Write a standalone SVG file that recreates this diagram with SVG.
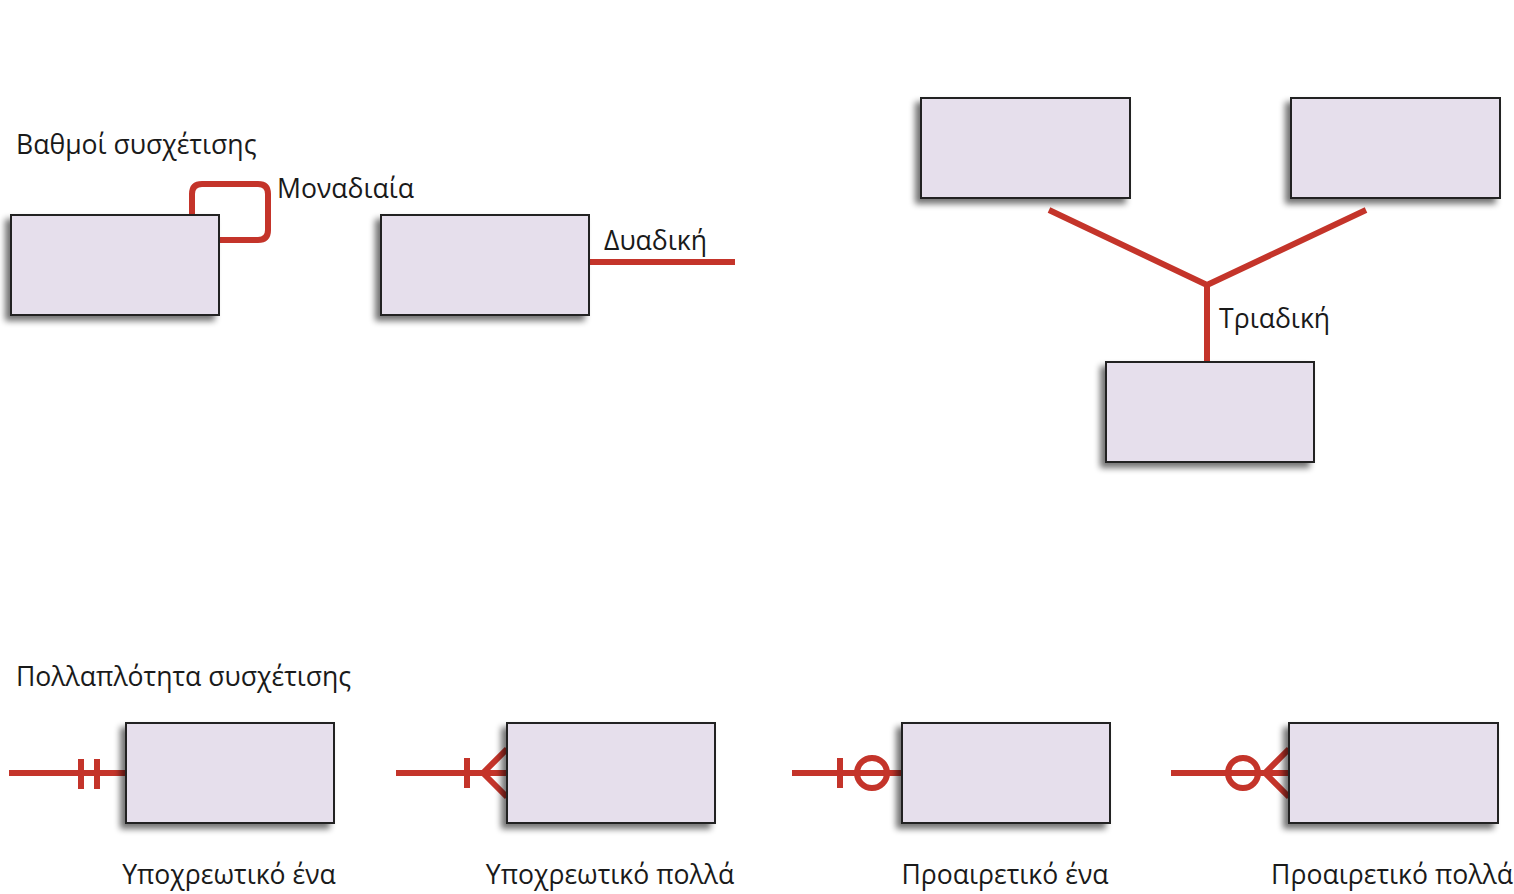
<svg xmlns="http://www.w3.org/2000/svg" width="1514" height="894" viewBox="0 0 1514 894">
<defs>
<filter id="sh" x="-20%" y="-20%" width="140%" height="150%">
<feGaussianBlur in="SourceAlpha" stdDeviation="3"/>
<feOffset dx="-5" dy="5" result="b"/>
<feComponentTransfer><feFuncA type="linear" slope="0.55"/></feComponentTransfer>
<feMerge><feMergeNode/><feMergeNode in="SourceGraphic"/></feMerge>
</filter>
</defs>
<style>
.box{fill:#e6dfec;stroke:#222;stroke-width:2;filter:url(#sh)}
.ln{fill:none;stroke:#c4342a;stroke-width:6;stroke-linecap:butt;stroke-linejoin:round}
text{font-family:"Open Sans","Liberation Sans",sans-serif;font-size:26.6px;fill:#1a1a1a}
.c{text-anchor:middle}
</style>
<rect width="1514" height="894" fill="#fff"/>
<text x="16" y="154">Βαθμοί συσχέτισης</text>
<text x="16" y="686">Πολλαπλότητα συσχέτισης</text>

<g id="connectors">
<path class="ln" d="M192,215 V194 Q192,184 202,184 H258 Q268,184 268,194 V230 Q268,240 258,240 H219"/>
<path class="ln" d="M589,262 H735"/>
<path class="ln" d="M1049,210 L1207,285 L1366,210 M1207,285 V362"/>
<path class="ln" d="M9,773 H126 M81,759 V789 M97,759 V789"/>
<path class="ln" d="M396,773 H507 M467,758 V788 M507,749 L483,773 L507,797"/>
<path class="ln" d="M792,773 H902 M840,758 V788"/>
<circle class="ln" cx="872" cy="773" r="15"/>
<path class="ln" d="M1171,773 H1289 M1289,749 L1265,773 L1289,797"/>
<circle class="ln" cx="1243" cy="773" r="15"/>
</g>

<g id="unary"><rect class="box" x="11" y="215" width="208" height="100"/><text x="277" y="198">Μοναδιαία</text></g>
<g id="binary"><rect class="box" x="381" y="215" width="208" height="100"/><text x="604" y="250">Δυαδική</text></g>
<g id="ternary-a"><rect class="box" x="921" y="98" width="209" height="100"/></g>
<g id="ternary-b"><rect class="box" x="1291" y="98" width="209" height="100"/></g>
<g id="ternary-c"><rect class="box" x="1106" y="362" width="208" height="100"/><text x="1219" y="328">Τριαδική</text></g>

<g id="mand-one"><rect class="box" x="126" y="723" width="208" height="100"/><text class="c" x="229" y="884">Υποχρεωτικό ένα</text></g>
<g id="mand-many"><rect class="box" x="507" y="723" width="208" height="100"/><text class="c" x="610" y="884">Υποχρεωτικό πολλά</text></g>
<g id="opt-one"><rect class="box" x="902" y="723" width="208" height="100"/><text class="c" x="1005" y="884">Προαιρετικό ένα</text></g>
<g id="opt-many"><rect class="box" x="1289" y="723" width="209" height="100"/><text class="c" x="1392" y="884">Προαιρετικό πολλά</text></g>
</svg>
